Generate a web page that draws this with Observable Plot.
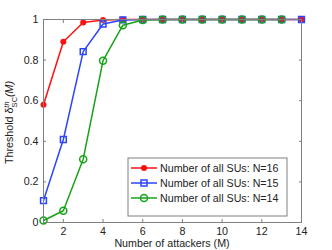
<!DOCTYPE html>
<html><head><meta charset="utf-8">
<script src="https://cdn.jsdelivr.net/npm/d3@7"></script>
<script src="https://cdn.jsdelivr.net/npm/@observablehq/plot@0.6"></script>
<style>body{margin:0;background:#fff}#c{width:332px;height:250px}</style>
</head><body><div id="c"></div>
<script>
const attackers = [1,2,3,4,5,6,7,8,9,10,11,12,13,14];
const n16 = [0.58,0.89,0.985,0.998,1,1,1,1,1,1,1,1,1,1];
const n15 = [0.108,0.409,0.842,0.978,0.998,1,1,1,1,1,1,1,1,1];
const n14 = [0.01,0.058,0.312,0.797,0.972,0.998,1,1,1,1,1,1,1];
const seriesNames = ["Number of all SUs: N=16","Number of all SUs: N=15","Number of all SUs: N=14"];
const colors = ["#ff1010","#2a45ff","#17a317"];
const xTicks = [2,4,6,8,10,12,14];
const yTicks = [0,0.2,0.4,0.6,0.8,1];
const xLabel = "Number of attackers (M)";

const mk = (vals) => vals.map((v,i)=>({x:attackers[i], y:v}));
const d16 = mk(n16), d15 = mk(n15), d14 = mk(n14);
const font = "Liberation Sans, Arial, sans-serif";
const FS = 10.7;
const ML=43, MR=31, MT=19, MB=28, W=332, H=250;
const blank = () => "";

const plot = Plot.plot({
  width: W, height: H,
  marginLeft: ML, marginRight: MR, marginTop: MT, marginBottom: MB,
  style: {fontFamily: font, fontSize: FS + "px", color: "#222", background: "#fff"},
  x: {domain: [1,14], ticks: xTicks},
  y: {domain: [0,1], ticks: yTicks},
  marks: [
    Plot.line(d16, {x:"x", y:"y", stroke: colors[0], strokeWidth: 1.5}),
    Plot.dot(d16, {x:"x", y:"y", fill: colors[0], r: 3}),
    Plot.line(d15, {x:"x", y:"y", stroke: colors[1], strokeWidth: 1.5}),
    Plot.dot(d15, {x:"x", y:"y", symbol: "square", stroke: colors[1], strokeWidth: 1.5, fill: "none", r: 3.3}),
    Plot.line(d14, {x:"x", y:"y", stroke: colors[2], strokeWidth: 1.5}),
    Plot.dot(d14, {x:"x", y:"y", stroke: colors[2], strokeWidth: 1.5, fill: "none", r: 3.5}),
    Plot.frame({stroke: "#808080", strokeWidth: 1}),
    Plot.axisX({anchor: "bottom", ticks: xTicks, tickSize: -3, stroke: "#808080", tickFormat: blank, label: null}),
    Plot.axisX({anchor: "top", ticks: xTicks, tickSize: -3, stroke: "#808080", tickFormat: blank, label: null}),
    Plot.axisY({anchor: "left", ticks: yTicks, tickSize: -3, stroke: "#808080", tickFormat: blank, label: null}),
    Plot.axisY({anchor: "right", ticks: yTicks, tickSize: -3, stroke: "#808080", tickFormat: blank, label: null}),
    Plot.axisX({anchor: "bottom", ticks: xTicks, tickSize: 0, tickPadding: 5, fill: "#222", fontSize: FS, label: null}),
    Plot.axisY({anchor: "left", ticks: yTicks, tickSize: 0, tickPadding: 5, fill: "#222", fontSize: FS, tickFormat: d => String(d), label: null})
  ]
});
document.getElementById("c").appendChild(plot);

const svg = d3.select(plot);
// x label
svg.append("text").attr("x", (ML + W - MR)/2).attr("y", H - 3)
  .attr("text-anchor","middle").attr("font-family", font).attr("font-size", FS).attr("fill","#222")
  .text(xLabel);
// y label
const yl = svg.append("text").attr("transform", `translate(13,${(MT + H - MB)/2 + 2}) rotate(-90)`)
  .attr("text-anchor","middle").attr("font-family", font).attr("font-size", FS).attr("fill","#222");
yl.append("tspan").text("Threshold δ");
yl.append("tspan").attr("font-size", 7.5).attr("font-style","italic").attr("dy", -4).text("th");
yl.append("tspan").attr("font-size", 7.5).attr("dx", -6).attr("dy", 7.5).text("SC");
yl.append("tspan").attr("font-style","italic").attr("dy", -3.5).text("(M)");

// legend
const lx = 128, ly = 158, lw = 159, lh = 58;
const lg = svg.append("g").attr("text-anchor", "start");
lg.append("rect").attr("x", lx).attr("y", ly).attr("width", lw).attr("height", lh)
  .attr("fill","#fff").attr("stroke","#808080");
seriesNames.forEach((name, i) => {
  const yy = ly + 10 + i*15;
  lg.append("line").attr("x1", lx+3).attr("x2", lx+29).attr("y1", yy).attr("y2", yy)
    .attr("stroke", colors[i]).attr("stroke-width", 1.5);
  const cx = lx + 16;
  if (i === 0) lg.append("circle").attr("cx", cx).attr("cy", yy).attr("r", 3).attr("fill", colors[i]);
  else if (i === 1) lg.append("rect").attr("x", cx-3).attr("y", yy-3).attr("width", 6).attr("height", 6)
    .attr("fill","none").attr("stroke", colors[i]).attr("stroke-width", 1.5);
  else lg.append("circle").attr("cx", cx).attr("cy", yy).attr("r", 3.5).attr("fill","none")
    .attr("stroke", colors[i]).attr("stroke-width", 1.5);
  lg.append("text").attr("x", lx + 32).attr("y", yy + 3.8).attr("text-anchor", "start")
    .attr("font-family", font).attr("font-size", FS).attr("fill","#222").text(name);
});
</script></body></html>
